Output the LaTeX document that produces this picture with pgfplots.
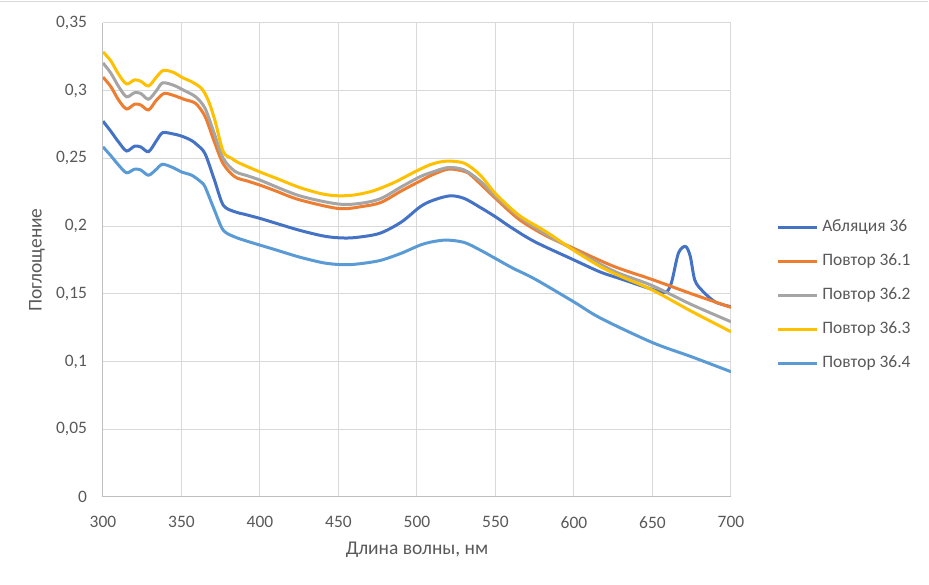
\documentclass[border=0pt]{standalone}
\usepackage{pgfplots}
\pgfplotsset{compat=1.18}
\usepackage{fontspec}
\setmainfont{Carlito}
\definecolor{sA}{HTML}{4472C4}
\definecolor{sB}{HTML}{ED7D31}
\definecolor{sC}{HTML}{A5A5A5}
\definecolor{sD}{HTML}{FFC000}
\definecolor{sE}{HTML}{5B9BD5}
\definecolor{gridc}{HTML}{D9D9D9}
\definecolor{axc}{HTML}{BFBFBF}
\definecolor{txt}{HTML}{595959}
\begin{document}
\begin{tikzpicture}
\path[use as bounding box] (-77.25pt,-66pt) rectangle (619.5pt,372.75pt);
\draw[gridc, line width=0.75pt] (-77.25pt,371.25pt) -- (618.75pt,371.25pt);
\begin{axis}[
  at={(0,0)}, anchor=south west,
  scale only axis, width=471pt, height=355.5pt,
  xmin=300, xmax=700, ymin=0, ymax=0.35,
  xtick={300,350,...,700},
  ytick={0,0.05,0.1,0.15,0.2,0.25,0.3,0.35},
  grid=major,
  major grid style={gridc, line width=0.75pt},
  axis line style={axc, line width=0.75pt},
  axis x line*=bottom, axis y line*=left,
  tick style={draw=none},
  /pgf/number format/assume math mode=true,
  /pgf/number format/use comma,
  /pgf/number format/fixed,
  /pgf/number format/precision=2,
  scaled y ticks=false,
  ticklabel style={font=\fontsize{13.1}{15.7}\selectfont, text=txt},
  xticklabel style={yshift=-11pt},
  yticklabel style={xshift=-8.5pt},
  xlabel={Длина волны, нм},
  ylabel={Поглощение},
  label style={font=\fontsize{14.6}{17.5}\selectfont, text=txt},
  xlabel style={at={(axis description cs:0.5,0)}, anchor=center, yshift=-39.75pt},
  ylabel style={at={(axis description cs:0,0.5)}, anchor=center, yshift=49.5pt},
  legend cell align=left,
  legend image code/.code={\draw[#1] (0pt,0pt) -- (29.25pt,0pt);},
  legend style={draw=none, fill=none, inner sep=0pt, column sep=3pt, row sep=13.5pt,
    at={(axis description cs:1.0717,0.5865)}, anchor=north west,
    font=\fontsize{13.1}{15.7}\selectfont, text=txt,
    nodes={inner sep=0pt, text height=9pt, text depth=3pt}},
  every axis plot/.append style={line width=2.25pt, smooth, tension=0.5},
]
\addplot[sA] coordinates {
(300,0.2775)(305,0.270)(310,0.262)(315,0.2555)(320,0.259)(324,0.2585)(329,0.255)
(334,0.263)(338,0.269)(345,0.268)(350,0.2665)(356,0.2635)(360,0.260)(365,0.2535)
(371,0.234)(376.6,0.2155)(384,0.2106)(390,0.2088)(400,0.2057)(410,0.2022)(425,0.197)
(440,0.1928)(450,0.1914)(460,0.1915)(476,0.1946)(490,0.203)(502,0.2143)(510,0.219)
(521,0.2224)(530,0.2205)(540,0.214)(550,0.2069)(560,0.199)(575,0.1885)(600,0.175)
(617,0.166)(630,0.161)(648,0.154)(658,0.151)(662,0.158)(666.5,0.180)(671,0.185)
(674,0.178)(677,0.160)(682,0.152)(690,0.144)(700,0.1405)};
\addlegendentry{Абляция 36}
\addplot[sB] coordinates {
(300,0.310)(305,0.303)(310,0.293)(315,0.2865)(320,0.290)(324,0.2895)(329,0.2858)
(334,0.293)(339,0.298)(345,0.2965)(352,0.2935)(359,0.2906)(365,0.281)(371,0.262)
(376.6,0.246)(384,0.2364)(392,0.2333)(400,0.2303)(410,0.226)(425,0.2195)(450,0.213)
(465,0.2145)(477,0.2175)(490,0.226)(502,0.2333)(510,0.238)(520,0.2421)(530,0.2405)
(535,0.237)(550,0.2205)(565,0.205)(582,0.193)(600,0.1835)(617,0.1744)(629,0.1687)
(650,0.1605)(675,0.150)(700,0.140)};
\addlegendentry{Повтор 36.1}
\addplot[sC] coordinates {
(300,0.3205)(305,0.313)(310,0.303)(315,0.2955)(320,0.2985)(324,0.298)(329,0.2937)
(334,0.300)(338,0.3058)(345,0.304)(352,0.300)(359,0.2955)(365,0.287)(371,0.268)
(376.6,0.250)(384,0.2405)(392,0.2372)(400,0.234)(425,0.2225)(450,0.2163)(465,0.217)
(477,0.2204)(490,0.229)(502,0.2365)(510,0.240)(520,0.2433)(530,0.2415)(540,0.2335)
(550,0.222)(565,0.207)(582,0.194)(600,0.1825)(617,0.1717)(629,0.165)(650,0.156)
(675,0.142)(700,0.1294)};
\addlegendentry{Повтор 36.2}
\addplot[sD] coordinates {
(300,0.3287)(305,0.322)(310,0.312)(315,0.305)(320,0.308)(324,0.307)(329,0.3035)
(334,0.310)(338.4,0.315)(345,0.3135)(350,0.310)(356.5,0.3066)(362.8,0.3016)(367,0.293)
(371.3,0.278)(376.6,0.255)(382,0.250)(387,0.2465)(400,0.240)(410,0.2355)(425.3,0.2285)
(440,0.2237)(450,0.2224)(460,0.223)(471.7,0.2259)(485,0.232)(501,0.2415)(510,0.246)
(519,0.248)(530,0.2465)(540,0.238)(550,0.224)(565,0.208)(582.3,0.1958)(600,0.182)
(617,0.170)(629,0.1633)(650,0.1528)(675,0.137)(700,0.122)};
\addlegendentry{Повтор 36.3}
\addplot[sE] coordinates {
(300,0.2585)(305,0.252)(310,0.245)(315,0.2394)(320,0.242)(324,0.2415)(329,0.2376)
(334,0.242)(338,0.2457)(345,0.243)(350,0.240)(356.5,0.2376)(362,0.233)(365,0.229)
(371,0.2118)(376.6,0.197)(384,0.192)(392,0.1888)(400,0.186)(410,0.1825)(425,0.1772)
(440,0.173)(450,0.1717)(460,0.1718)(476,0.1745)(490,0.180)(502,0.186)(510,0.1885)
(519,0.1897)(530,0.188)(540,0.1825)(550,0.1761)(561,0.169)(575,0.161)(600,0.144)
(617,0.132)(650,0.114)(675,0.1035)(700,0.0925)};
\addlegendentry{Повтор 36.4}
\end{axis}
\end{tikzpicture}
\end{document}
